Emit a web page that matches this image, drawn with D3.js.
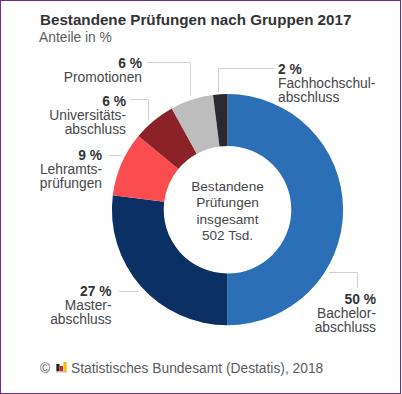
<!DOCTYPE html>
<html>
<head>
<meta charset="utf-8">
<script src="https://cdn.jsdelivr.net/npm/d3@7"></script>
<style>
html, body { margin: 0; padding: 0; background: #fff; }
text { font-family: "Liberation Sans", Arial, sans-serif; fill: #46464a; }
</style>
</head>
<body>
<div id="chart"></div>
<script>
// Set of data
const categories = ["Bachelor", "Master", "Lehramt", "Universitaet", "Promotionen", "Fachhochschule"];
const shares = [50, 27, 9, 6, 6, 2];
const colors = ["#2b70b6", "#0b3164", "#fb4c50", "#8a2227", "#bdbdbd", "#2a2a2e"];
const pctLabels = ["50 %", "27 %", "9 %", "6 %", "6 %", "2 %"];
const nameLines = [
    ["Bachelor-", "abschluss"],
    ["Master-", "abschluss"],
    ["Lehramts-", "prüfungen"],
    ["Universitäts-", "abschluss"],
    ["Promotionen"],
    ["Fachhochschul-", "abschluss"]
];
const centerLines = ["Bestandene", "Prüfungen", "insgesamt", "502 Tsd."];

// Label layout: x/y of the percent text, anchor, leader points
const labelLayout = [
    { x: 376, y: 304, anchor: "end", leader: [[329, 272.5], [357.5, 272.5], [357.5, 288]] },
    { x: 111.5, y: 296, anchor: "end", leader: [[119, 291.5], [138, 291.5]] },
    { x: 102, y: 160, anchor: "end", leader: [[109, 155.5], [122, 155.5]] },
    { x: 126, y: 106, anchor: "end", leader: [[130, 99.5], [148.5, 99.5], [148.5, 120]] },
    { x: 142, y: 68, anchor: "end", leader: [[147, 62.5], [190.5, 62.5], [190.5, 96]] },
    { x: 278, y: 74, anchor: "start", leader: [[274, 68.5], [218.5, 68.5], [218.5, 92]] }
];

const width = 402, height = 394;
const cx = 227.5, cy = 209.7, outer = 115.6, inner = 63.8;

const svg = d3.select("#chart")
    .append("svg")
    .attr("width", width)
    .attr("height", height)
    .style("display", "block");

// Frame
svg.append("rect")
    .attr("x", 0.5).attr("y", 0.5)
    .attr("width", width - 2).attr("height", height - 1)
    .attr("fill", "#fff")
    .attr("stroke", "#6a2c91");

// Title
svg.append("text").attr("x", 40).attr("y", 25)
    .attr("font-size", 15.2).attr("font-weight", "bold")
    .style("fill", "#333337")
    .text("Bestandene Prüfungen nach Gruppen 2017");
svg.append("text").attr("x", 39).attr("y", 42)
    .attr("font-size", 13.8).style("fill", "#5c5c60")
    .text("Anteile in %");

// Donut
const pie = d3.pie().sort(null).value(d => d)(shares);
const arc = d3.arc().innerRadius(inner).outerRadius(outer);

svg.append("g")
    .attr("transform", `translate(${cx},${cy})`)
    .selectAll("path")
    .data(pie)
    .enter()
    .append("path")
        .attr("d", arc)
        .attr("fill", (d, i) => colors[i]);

// Center text
svg.append("g").selectAll("text")
    .data(centerLines)
    .enter()
    .append("text")
        .attr("x", cx)
        .attr("y", (d, i) => 191 + i * 16.3)
        .attr("text-anchor", "middle")
        .attr("font-size", 13.6)
        .text(d => d);

// Leaders
const line = d3.line();
svg.append("g").selectAll("path")
    .data(labelLayout)
    .enter()
    .append("path")
        .attr("d", d => line(d.leader))
        .attr("fill", "none")
        .attr("stroke", "#d0d0d0")
        .attr("stroke-width", 1);

// Labels
const labels = svg.append("g").selectAll("g")
    .data(labelLayout)
    .enter()
    .append("g");

labels.append("text")
    .attr("x", d => d.x)
    .attr("y", d => d.y)
    .attr("text-anchor", d => d.anchor)
    .attr("font-size", 13.8)
    .attr("font-weight", "bold")
    .style("fill", "#333337")
    .text((d, i) => pctLabels[i]);

labels.each(function(d, i) {
    d3.select(this).selectAll("text.name")
        .data(nameLines[i])
        .enter()
        .append("text")
            .attr("class", "name")
            .attr("x", d.x)
            .attr("y", (t, j) => d.y + 14 + j * 14)
            .attr("text-anchor", d.anchor)
            .attr("font-size", 13.8)
            .text(t => t);
});

// Footer
svg.append("text").attr("x", 40).attr("y", 373)
    .attr("font-size", 13.8).style("fill", "#5c5c60")
    .text("©");
const logoColors = ["#222", "#d22", "#f2c200"];
const logoH = [7, 5, 9];
const logoX = d3.scaleBand().domain(d3.range(3)).range([56, 67]).padding(0.1);
svg.append("g").selectAll("rect")
    .data(logoColors)
    .enter()
    .append("rect")
        .attr("x", (d, i) => logoX(i))
        .attr("y", (d, i) => 371 - logoH[i])
        .attr("width", logoX.bandwidth())
        .attr("height", (d, i) => logoH[i])
        .attr("fill", d => d);
svg.append("rect")
    .attr("x", 56).attr("y", 371)
    .attr("width", 11).attr("height", 1.5)
    .attr("fill", "#bbb");
svg.append("text").attr("x", 71).attr("y", 373)
    .attr("font-size", 13.8).style("fill", "#5c5c60")
    .text("Statistisches Bundesamt (Destatis), 2018");
</script>
</body>
</html>
